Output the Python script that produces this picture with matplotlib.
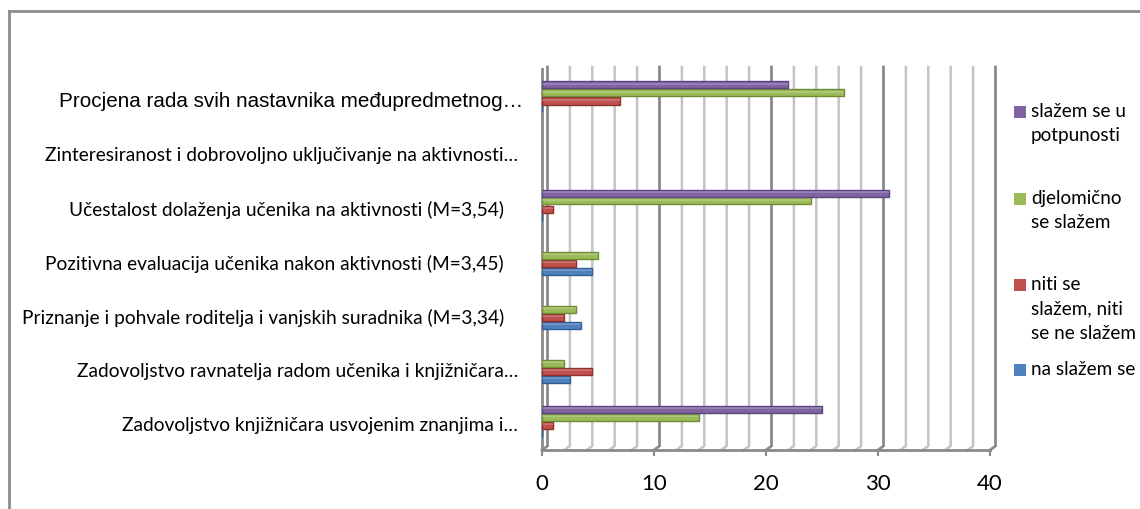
import numpy as np
import matplotlib
matplotlib.use("Agg")
import matplotlib.pyplot as plt
from matplotlib.patches import Rectangle
from matplotlib.lines import Line2D
import matplotlib.transforms as mtransforms

# ---------------- data ----------------
categories = [
    "Zadovoljstvo knjižničara usvojenim znanjima i…",
    "Zadovoljstvo ravnatelja radom učenika i knjižničara…",
    "Priznanje i pohvale roditelja i vanjskih suradnika (M=3,34)",
    "Pozitivna evaluacija učenika nakon aktivnosti (M=3,45)",
    "Učestalost dolaženja učenika na aktivnosti (M=3,54)",
    "Zinteresiranost i dobrovoljno uključivanje na aktivnosti…",
    "Procjena rada svih nastavnika međupredmetnog…",
]
series_names = ["na slažem se", "niti se slažem, niti se ne slažem",
                "djelomično se slažem", "slažem se u potpunosti"]
legend_labels = ["na slažem se", "niti se\nslažem, niti\nse ne slažem",
                 "djelomično\nse slažem", "slažem se u\npotpunosti"]
na_slazem = [0, 2.5, 3.5, 4.5, 0, np.nan, 0]
niti_niti = [1, 4.5, 2, 3, 1, np.nan, 7]
djelomicno = [14, 2, 3, 5, 24, np.nan, 27]
potpuno = [25, np.nan, np.nan, np.nan, 31, np.nan, 22]
x_ticks = [0, 10, 20, 30, 40]

colors = ["#4F81BD", "#C0504D", "#9BBB59", "#8064A2"]
edges = ["#2F5F96", "#8E2F2C", "#6F8C35", "#5C4580"]

W, H = 1140, 509
fig = plt.figure(figsize=(W / 100, H / 100), dpi=100)
fig.patch.set_facecolor("white")

CAL = ["Lato", "DejaVu Sans"]
ARI = ["Liberation Sans", "DejaVu Sans"]

# axes placement (pixels)
x0, x40 = 542, 990
y_top, y_floor = 67, 450
ax = fig.add_axes([x0 / W, (H - y_floor) / H, (x40 - x0) / W, (y_floor - y_top) / H])
ppu_y = 54.0
ylo = -(y_floor - 421) / ppu_y
yhi = 6 + (97 - y_top) / ppu_y
ax.set_xlim(0, 40)
ax.set_ylim(ylo, yhi)
for s in ax.spines.values():
    s.set_visible(False)

ppu_x = (x40 - x0) / 40.0
dxb = 5.5 / ppu_x
dyb = 4.0 / ppu_y
ybf = ylo + dyb

# back wall gridlines (3D look)
for gx in np.arange(0, 41, 2):
    major = (gx % 10 == 0)
    col = "#8a8a8a" if major else "#c4c4c4"
    lw = 2.0 if major else 1.8
    ax.plot([gx + dxb, gx + dxb, gx], [yhi, ybf, ylo], color=col, lw=lw,
            solid_joinstyle="miter", clip_on=False, zorder=1)
# left wall
ax.plot([0, 0], [ylo, yhi - 0.03], color="#8a8a8a", lw=2.0, clip_on=False, zorder=1)
# floor front line
ax.plot([0, 40], [ylo, ylo], color="#8a8a8a", lw=2.0, clip_on=False, zorder=1)

# bars
y = np.arange(len(categories))
step = 8.0 / ppu_y
bh = 7.0 / ppu_y
all_vals = [na_slazem, niti_niti, djelomicno, potpuno]
for i, vals in enumerate(all_vals):
    ax.barh(y + (i - 1.5) * step, vals, height=bh, color=colors[i],
            edgecolor=edges[i], linewidth=1.0, zorder=3)
    v = np.array(vals, dtype=float)
    ax.barh(y + (i - 1.5) * step + bh * 0.18, v, height=bh * 0.25,
            color="white", alpha=0.18, linewidth=0, zorder=4)

# ticks
ax.set_xticks(x_ticks)
ax.set_xticklabels([str(t) for t in x_ticks], fontsize=16, family=CAL)
ax.tick_params(axis="x", length=4.5, width=1.5, color="#8a8a8a", pad=13)
ax.set_yticks(y)
ax.set_yticklabels(categories, fontsize=14)
ax.tick_params(axis="y", length=0, pad=27.4)
for k, lab in enumerate(ax.get_yticklabels()):
    txt = lab.get_text()
    if k == len(categories) - 1:
        dx_px = 19
        lab.set_family(ARI)
        lab.set_fontsize(14.9)
    else:
        dx_px = 14 if txt.endswith("…") else 0
        lab.set_family(CAL)
        lab.set_fontsize(13.8)
    off = mtransforms.ScaledTranslation(dx_px / 100, -3 / 100, fig.dpi_scale_trans)
    lab.set_transform(lab.get_transform() + off)

# legend (manual, Excel style)
leg_y = [370, 285, 199, 112]
line_gap = 24.5
for i in range(4):
    yy = leg_y[i]
    fig.patches.append(Rectangle((1014 / W, (H - yy - 5.5) / H), 11.5 / W, 11.5 / H,
                                 transform=fig.transFigure, facecolor=colors[i],
                                 edgecolor="none"))
    for j, line in enumerate(legend_labels[i].split("\n")):
        fig.text(1031 / W, (H - (yy + j * line_gap) - 5) / H, line, family=CAL,
                 fontsize=13.6, va="baseline", ha="left")

# outer border
fig.add_artist(Line2D([9 / W, 9 / W], [0, (H - 11) / H], color="#8c8c8c", lw=2,
                      transform=fig.transFigure))
fig.add_artist(Line2D([9 / W, 1], [(H - 11) / H, (H - 11) / H], color="#8c8c8c", lw=2,
                      transform=fig.transFigure))

fig.savefig("out.png", dpi=100)
